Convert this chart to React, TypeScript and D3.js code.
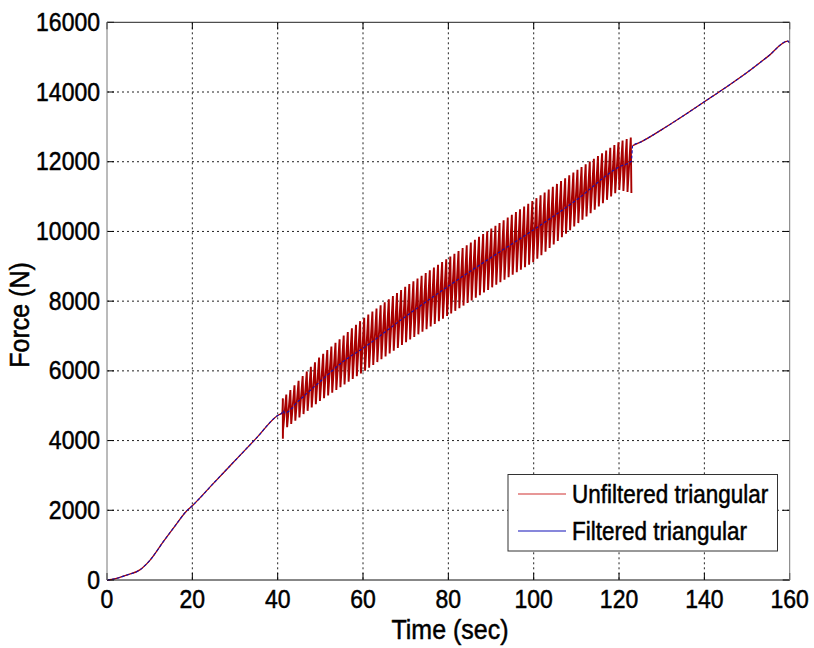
import React from "react";
import * as d3 from "d3";

// ---- data ----
const xTicks = [0, 20, 40, 60, 80, 100, 120, 140, 160];
const yTicks = [0, 2000, 4000, 6000, 8000, 10000, 12000, 14000, 16000];

// filtered force (N) vs time (s)
const filteredTime = [0, 2, 4.6, 7.7, 10.1, 13.2, 16, 18.5, 20, 25, 28.8, 35, 40, 41, 41.3, 41.6, 45, 50, 55.8, 60, 70, 80, 90, 100, 110, 120, 122.9, 123.2, 125, 130, 135, 140, 145, 150, 155, 159.6, 160];
const filteredForce = [0, 40, 140, 290, 570, 1100, 1560, 1960, 2130, 2780, 3270, 4070, 4720, 4790, 4860, 4790, 5150, 5700, 6310, 6650, 7560, 8430, 9250, 10050, 10900, 11850, 12020, 12460, 12560, 12920, 13310, 13720, 14130, 14560, 15030, 15460, 15400];

// envelope of the unfiltered (triangular) oscillation
const bandTime = [41.3, 50, 60, 70, 80, 90, 100, 110, 120, 122.9];
const bandUpper = [5220, 6420, 7500, 8420, 9240, 10080, 10900, 11750, 12570, 12700];
const bandLower = [4300, 5150, 5970, 6820, 7600, 8380, 9130, 10200, 11190, 11100];
const bandStart = 41.2;
const bandEnd = 122.9;
const bandCycles = 85;
const firstSpike = 4050;

const legendLabels = ["Unfiltered triangular", "Filtered triangular"];
const RED = "#a80000";
const BLUE = "#1010b8";

function T({ x, y, size, anchor, rot, children }: any) {
  const tr = `translate(${x},${y})${rot ? ` rotate(${rot})` : ""} scale(1,1.12)`;
  return (
    <text
      transform={tr}
      textAnchor={anchor || "start"}
      style={{ fontFamily: "'Liberation Sans', Arial, sans-serif", fontSize: size, fill: "#000", stroke: "#000", strokeWidth: 0.45 }}
    >
      {children}
    </text>
  );
}

export default function App() {
  const W = 814, H = 648;
  const L = 107, R = 789.7, TOP = 22.3, B = 580;
  const x = d3.scaleLinear().domain([0, 160]).range([L, R]);
  const y = d3.scaleLinear().domain([0, 16000]).range([B, TOP]);

  const filtered: [number, number][] = filteredTime.map((t, i) => [t, filteredForce[i]]);

  const up = d3.scaleLinear().domain(bandTime).range(bandUpper);
  const lo = d3.scaleLinear().domain(bandTime).range(bandLower);
  const period = (bandEnd - bandStart) / bandCycles;
  const band: [number, number][] = [];
  band.push([bandStart, up(bandStart)]);
  band.push([bandStart + 0.02, firstSpike]);
  d3.range(bandCycles).forEach((k) => {
    const t0 = bandStart + k * period;
    band.push([t0 + 0.05, lo(t0)]);
    const t1 = t0 + 0.85 * period;
    band.push([t1, up(t1)]);
  });
  band.push([bandEnd, lo(bandEnd)]);
  const before = filtered.filter((p) => p[0] <= bandStart - 0.1);
  const after = filtered.filter((p) => p[0] > bandEnd);

  const line = d3.line<[number, number]>().x((d) => x(d[0])).y((d) => y(d[1]));
  const fLine = d3.line<[number, number]>().x((d) => x(d[0])).y((d) => y(d[1])).curve(d3.curveMonotoneX);

  return (
    <svg width={W} height={H} style={{ position: "absolute", left: 0, top: 0, background: "#fff" }}>
      <rect x={0} y={0} width={W} height={H} fill="#fff" />
      {/* grid */}
      {xTicks.slice(1, -1).map((t) => (
        <line key={"gx" + t} x1={x(t)} x2={x(t)} y1={TOP} y2={B} stroke="#222" strokeWidth={1} strokeDasharray="2,3" />
      ))}
      {yTicks.slice(1, -1).map((t) => (
        <line key={"gy" + t} x1={L} x2={R} y1={y(t)} y2={y(t)} stroke="#222" strokeWidth={1} strokeDasharray="2,3" />
      ))}
      {/* ticks */}
      {xTicks.map((t) => (
        <g key={"tx" + t}>
          <line x1={x(t)} x2={x(t)} y1={B} y2={B - 7} stroke="#000" />
          <line x1={x(t)} x2={x(t)} y1={TOP} y2={TOP + 7} stroke="#000" />
        </g>
      ))}
      {yTicks.map((t) => (
        <g key={"ty" + t}>
          <line x1={L} x2={L + 7} y1={y(t)} y2={y(t)} stroke="#000" />
          <line x1={R} x2={R - 7} y1={y(t)} y2={y(t)} stroke="#000" />
        </g>
      ))}
      {/* data */}
      <path d={fLine(before.concat([[bandStart, up(bandStart)]])) || ""} fill="none" stroke={RED} strokeWidth={1.3} />
      <path d={line(band) || ""} fill="none" stroke={RED} strokeWidth={1.9} />
      <path d={fLine(after) || ""} fill="none" stroke={RED} strokeWidth={1.3} />
      <path d={fLine(filtered) || ""} fill="none" stroke={BLUE} strokeWidth={1.1} strokeDasharray="3,2" />
      {/* box */}
      <line x1={L} x2={R} y1={TOP} y2={TOP} stroke="#222" />
      <line x1={L} x2={R} y1={B} y2={B} stroke="#111" />
      <line x1={L} x2={L} y1={TOP} y2={B} stroke="#777" />
      <line x1={R} x2={R} y1={TOP} y2={B} stroke="#777" />
      {/* tick labels */}
      {xTicks.map((t) => (
        <T key={"lx" + t} x={x(t)} y={607.5} size={23} anchor="middle">{t}</T>
      ))}
      {yTicks.map((t) => (
        <T key={"ly" + t} x={100} y={y(t) + 8.5} size={23} anchor="end">{t}</T>
      ))}
      {/* axis labels */}
      <T x={450} y={639} size={25} anchor="middle">Time (sec)</T>
      <T x={29} y={315} size={25} anchor="middle" rot={-90}>Force (N)</T>
      {/* legend */}
      <rect x={508} y={474.5} width={269.5} height={76.5} fill="#fff" stroke="#333" />
      <line x1={518} x2={566} y1={494} y2={494} stroke="#d03030" strokeWidth={1.2} />
      <line x1={518} x2={566} y1={531} y2={531} stroke={BLUE} strokeWidth={1.2} />
      <T x={572} y={503} size={22.5}>{legendLabels[0]}</T>
      <T x={572} y={540} size={22.5}>{legendLabels[1]}</T>
    </svg>
  );
}
